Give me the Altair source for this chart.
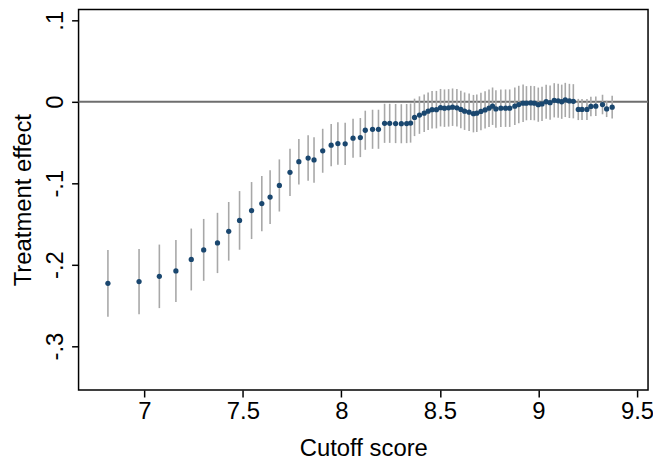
import altair as alt
import pandas as pd

cutoff = [6.815, 6.973, 7.076, 7.160, 7.238, 7.301, 7.371, 7.428, 7.483, 7.544,
          7.596, 7.638, 7.685, 7.739, 7.784, 7.831, 7.861, 7.905, 7.948, 7.982,
          8.019, 8.059, 8.096, 8.121, 8.158, 8.188, 8.219, 8.245, 8.275, 8.304,
          8.331, 8.351, 8.371, 8.396, 8.420, 8.440, 8.460, 8.482, 8.503, 8.523,
          8.544, 8.564, 8.586, 8.606, 8.625, 8.648, 8.670, 8.687, 8.708, 8.729,
          8.749, 8.767, 8.784, 8.809, 8.833, 8.854, 8.880, 8.900, 8.922, 8.939,
          8.961, 8.979, 8.999, 9.018, 9.039, 9.059, 9.080, 9.100, 9.118, 9.136,
          9.157, 9.177, 9.202, 9.221, 9.246, 9.266, 9.291, 9.325, 9.346, 9.374]

effect = [-0.2229, -0.2208, -0.2144, -0.2078, -0.1937, -0.1819, -0.1734, -0.1591, -0.1457, -0.1336,
          -0.1251, -0.1170, -0.1028, -0.0866, -0.0736, -0.0691, -0.0715, -0.0602, -0.0533, -0.0513,
          -0.0517, -0.0448, -0.0440, -0.0350, -0.0338, -0.0338, -0.0265, -0.0265, -0.0268, -0.0270,
          -0.0268, -0.0262, -0.0192, -0.0164, -0.0140, -0.0116, -0.0097, -0.0097, -0.0073, -0.0079,
          -0.0075, -0.0067, -0.0075, -0.0095, -0.0116, -0.0128, -0.0146, -0.0140, -0.0119, -0.0100,
          -0.0079, -0.0055, -0.0088, -0.0079, -0.0079, -0.0079, -0.0055, -0.0034, -0.0018, -0.0018,
          -0.0015, -0.0018, -0.0036, -0.0027, 0.0000, -0.0012, 0.0018, 0.0012, 0.0000, 0.0022,
          0.0010, 0.0006, -0.0095, -0.0095, -0.0095, -0.0058, -0.0055, -0.0034, -0.0088, -0.0067]

ci_half = [0.041, 0.040, 0.039, 0.038, 0.038, 0.038, 0.037, 0.036, 0.036, 0.035,
           0.034, 0.033, 0.032, 0.029, 0.028, 0.028, 0.028, 0.027, 0.026, 0.026,
           0.026, 0.024, 0.024, 0.024, 0.024, 0.024, 0.024, 0.024, 0.024, 0.024,
           0.024, 0.024, 0.023, 0.023, 0.023, 0.023, 0.023, 0.023, 0.023, 0.023,
           0.023, 0.023, 0.023, 0.023, 0.023, 0.023, 0.023, 0.023, 0.023, 0.023,
           0.023, 0.023, 0.023, 0.023, 0.023, 0.023, 0.023, 0.023, 0.023, 0.021,
           0.021, 0.021, 0.021, 0.021, 0.021, 0.021, 0.021, 0.021, 0.021, 0.021,
           0.021, 0.021, 0.013, 0.013, 0.013, 0.012, 0.012, 0.012, 0.010, 0.014]

x_ticks = [7, 7.5, 8, 8.5, 9, 9.5]
y_ticks = [-0.3, -0.2, -0.1, 0, 0.1]

df = pd.DataFrame({
    "cutoff": cutoff,
    "effect": effect,
    "lo": [e - h for e, h in zip(effect, ci_half)],
    "hi": [e + h for e, h in zip(effect, ci_half)],
})

FONT = "Liberation Sans, Arial, Helvetica, sans-serif"

xs = alt.Scale(domain=[6.666, 9.556], nice=False, zero=False)
ys = alt.Scale(domain=[-0.354, 0.1134], nice=False, zero=False)

x_axis = alt.Axis(values=x_ticks, title="Cutoff score", labelExpr="toString(datum.value)",
                  labelPadding=3, titlePadding=13, labelFlush=False)
y_axis = alt.Axis(values=y_ticks, title="Treatment effect",
                  labelExpr="replace(toString(datum.value), '0.', '.')",
                  labelAngle=-90, labelAlign="center", labelBaseline="bottom",
                  labelPadding=4, titlePadding=8)

base = alt.Chart(df)

zero = alt.Chart(pd.DataFrame({"y": [0]})).mark_rule(
    color="#6e6e6e", strokeWidth=2
).encode(y=alt.Y("y:Q", scale=ys, axis=y_axis))

bars = base.mark_rule(color="#a8a8a8", strokeWidth=1.6).encode(
    x=alt.X("cutoff:Q", scale=xs, axis=x_axis),
    y=alt.Y("lo:Q", scale=ys, axis=y_axis),
    y2="hi:Q",
)

pts = base.mark_circle(size=28, color="#1a476f", opacity=1).encode(
    x=alt.X("cutoff:Q", scale=xs, axis=x_axis),
    y=alt.Y("effect:Q", scale=ys, axis=y_axis),
)

chart = alt.layer(zero, bars, pts).properties(
    width=573, height=383,
    autosize=alt.AutoSizeParams(type="none"),
    padding={"left": 71, "top": 0, "right": 5, "bottom": 70},
    background="white",
).configure_view(
    stroke="black", strokeWidth=1.5
).configure_axis(
    grid=False, domain=False,
    tickColor="black", tickSize=7, tickWidth=1.5,
    labelFont=FONT, titleFont=FONT, labelFontSize=24, titleFontSize=24,
    labelColor="black", titleColor="black", titleFontWeight="normal",
)

chart.save("out.html", embed_options={"renderer": "svg", "actions": False})
